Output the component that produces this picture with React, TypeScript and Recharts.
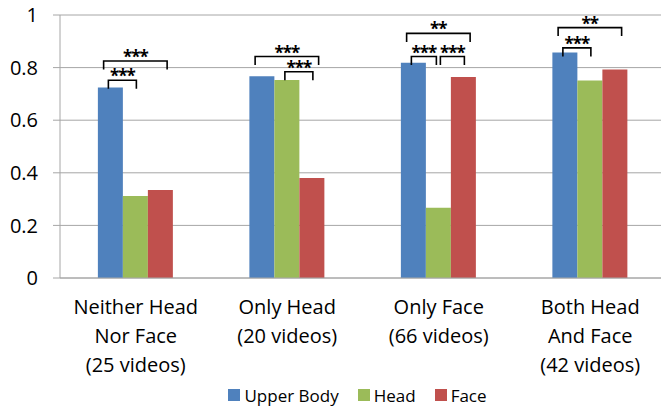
import React from 'react';
import { BarChart, Bar, XAxis, YAxis, CartesianGrid, Legend, LabelList } from 'recharts';

const categories = [
  'Neither Head\nNor Face\n(25 videos)',
  'Only Head\n(20 videos)',
  'Only Face\n(66 videos)',
  'Both Head\nAnd Face\n(42 videos)',
];
const seriesNames = ['Upper Body', 'Head', 'Face'];
const upperBody = [0.724, 0.767, 0.818, 0.857];
const head = [0.312, 0.753, 0.267, 0.751];
const face = [0.335, 0.38, 0.764, 0.793];
const yTicks = [0, 0.2, 0.4, 0.6, 0.8, 1];
// category boundaries for the small x tick marks
const edgeTicks = [0, 1, 2, 3, 4];

// significance brackets: category index, first / last series (0 upper body, 1 head, 2 face), bracket height, stars
const brackets = [
  { group: 0, from: 0, to: 1, level: 0.752, stars: '***' },
  { group: 0, from: 0, to: 2, level: 0.825, stars: '***' },
  { group: 1, from: 1, to: 2, level: 0.784, stars: '***' },
  { group: 1, from: 0, to: 2, level: 0.842, stars: '***' },
  { group: 2, from: 0, to: 1, level: 0.842, stars: '***' },
  { group: 2, from: 1, to: 2, level: 0.842, stars: '***' },
  { group: 2, from: 0, to: 2, level: 0.93, stars: '**' },
  { group: 3, from: 0, to: 1, level: 0.875, stars: '***' },
  { group: 3, from: 0, to: 2, level: 0.952, stars: '**' },
];

const data = categories.map((name, i) => ({ name, upper: upperBody[i], head: head[i], face: face[i] }));

const GRID = '#a6a6a6';
const FONT = '"Open Sans", sans-serif';

function CategoryTick(props: any) {
  const { x, y, payload } = props;
  const lines = String(payload.value).split('\n');
  return (
    <text x={x} y={y} textAnchor="middle" fontSize={20} fill="#000">
      {lines.map((l, i) => (
        <tspan key={i} x={x} dy={i === 0 ? 28 : 29}>
          {l}
        </tspan>
      ))}
    </text>
  );
}

function renderBrackets(props: any) {
  const vb = props.viewBox ?? {};
  const x = props.x ?? vb.x;
  const y = props.y ?? vb.y;
  const w = props.width ?? vb.width;
  const h = props.height ?? vb.height;
  const value = Number(props.value);
  const bottom = y + h;
  const px = (v: number) => bottom - (h * v) / value;
  const cx = (s: number) => x + w * (s + 0.5);
  const group = brackets.filter((b) => b.group === props.index);
  return (
    <g>
      {group.map((b, i) => {
        const wide = b.to - b.from > 1;
        const sharesLeft = group.some((o) => o !== b && o.level === b.level && o.to === b.from);
        const sharesRight = group.some((o) => o !== b && o.level === b.level && o.from === b.to);
        let x1 = cx(b.from) - (wide ? w * 0.27 : w * 0.08);
        let x2 = cx(b.to) + (wide ? w * 0.27 : w * 0.04);
        if (sharesLeft) x1 += w * 0.16;
        if (sharesRight) x2 -= w * 0.12;
        const top = px(b.level);
        return (
          <g key={i}>
            <path d={`M${x1},${top + 8.5}V${top}H${x2}V${top + 8.5}`} fill="none" stroke="#000" strokeWidth={1.6} />
            <text
              x={(x1 + x2) / 2}
              y={top + 2}
              textAnchor="middle"
              fontSize={17}
              fontWeight={700}
              letterSpacing={-1}
              fill="#000"
            >
              {b.stars}
            </text>
          </g>
        );
      })}
    </g>
  );
}

function LegendContent(props: any) {
  const { payload = [] } = props;
  const items = seriesNames.map((n) => payload.find((p: any) => p.value === n)).filter(Boolean);
  return (
    <div
      style={{
        display: 'flex',
        justifyContent: 'center',
        alignItems: 'center',
        gap: 19,
        height: 24,
        width: 661,
        paddingLeft: 54,
        boxSizing: 'border-box',
        fontSize: 17,
        color: '#000',
      }}
    >
      {items.map((p: any) => (
        <span key={p.value} style={{ display: 'flex', alignItems: 'center' }}>
          <span style={{ width: 12, height: 12, background: p.color, marginRight: 4, display: 'inline-block' }} />
          {p.value}
        </span>
      ))}
    </div>
  );
}

export default function App() {
  return (
    <div style={{ position: 'fixed', left: 0, top: 0, width: 661, height: 407, background: '#fff', fontFamily: FONT }}>
      <BarChart
        width={661}
        height={407}
        data={data}
        margin={{ top: 15, right: -5, left: 0, bottom: 0 }}
        barCategoryGap="25%"
        barGap={0}
      >
        <CartesianGrid vertical={false} stroke={GRID} />
        <XAxis
          xAxisId="edges"
          type="number"
          domain={[0, categories.length]}
          ticks={edgeTicks}
          allowDataOverflow
          height={8}
          axisLine={false}
          tick={false}
          tickLine={{ stroke: GRID }}
          tickSize={8}
        />
        <XAxis
          dataKey="name"
          interval={0}
          height={97}
          axisLine={{ stroke: GRID }}
          tickLine={false}
          tick={<CategoryTick />}
        />
        <YAxis
          domain={[0, 1]}
          ticks={yTicks}
          width={60}
          axisLine={{ stroke: GRID }}
          tickLine={{ stroke: GRID }}
          tickSize={7}
          tickMargin={15}
          tick={{ fontSize: 20, fill: '#000' }}
          tickFormatter={(v: number) => String(v)}
        />
        <Legend verticalAlign="bottom" content={<LegendContent />} wrapperStyle={{ left: 0, width: 661 }} />
        <Bar dataKey="upper" name={seriesNames[0]} fill="#4f81bd" isAnimationActive={false}>
          <LabelList dataKey="upper" content={renderBrackets} />
        </Bar>
        <Bar dataKey="head" name={seriesNames[1]} fill="#9bbb59" isAnimationActive={false} />
        <Bar dataKey="face" name={seriesNames[2]} fill="#c0504d" isAnimationActive={false} />
      </BarChart>
    </div>
  );
}
